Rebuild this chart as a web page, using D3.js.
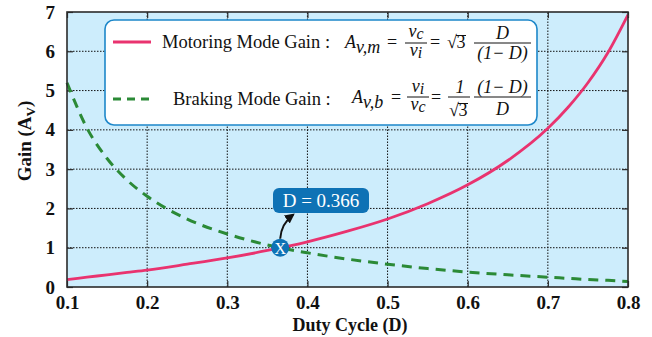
<!DOCTYPE html>
<html>
<head>
<meta charset="utf-8">
<script src="https://cdn.jsdelivr.net/npm/d3@7"></script>
<style>
  html, body { margin: 0; padding: 0; background: #fff; }
  svg { display: block; }
  text { font-family: "Liberation Serif", "Times New Roman", serif; }
</style>
</head>
<body>
<svg id="chart" width="652" height="337"></svg>
<script>
// Duty cycle samples and gains for each operating mode
const dutyCycle    = [0.10, 0.125, 0.15, 0.175, 0.20, 0.25, 0.30, 0.35, 0.40, 0.45, 0.50, 0.55, 0.60, 0.65, 0.70, 0.725, 0.75, 0.775, 0.80];
const motoringGain = [0.19, 0.25, 0.31, 0.37, 0.43, 0.58, 0.74, 0.93, 1.15, 1.42, 1.73, 2.12, 2.60, 3.22, 4.04, 4.57, 5.20, 5.97, 6.93];
const brakingGain  = [5.20, 4.04, 3.27, 2.72, 2.31, 1.73, 1.35, 1.07, 0.87, 0.71, 0.58, 0.47, 0.38, 0.31, 0.25, 0.22, 0.19, 0.17, 0.14];

const xTicks = [0.1, 0.2, 0.3, 0.4, 0.5, 0.6, 0.7, 0.8];
const yTicks = [0, 1, 2, 3, 4, 5, 6, 7];

// Crossover point where both gains equal 1
const crossD = 0.366;
const crossGain = 1;

const svg = d3.select("#chart");
const margin = { left: 67, right: 24, top: 12, bottom: 50 };
const W = 652, H = 337;
const x = d3.scaleLinear().domain([0.1, 0.8]).range([margin.left, W - margin.right]);
const y = d3.scaleLinear().domain([0, 7]).range([H - margin.bottom, margin.top]);

const colors = { bg: "#cdedfc", motoring: "#e9336f", braking: "#2b8a36", frame: "#2b2b2b", box: "#1d87c9", tag: "#0e72b5" };

// plot background
svg.append("rect")
  .attr("x", x(0.1)).attr("y", y(7))
  .attr("width", x(0.8) - x(0.1)).attr("height", y(0) - y(7))
  .attr("fill", colors.bg);

// dotted grid
const grid = svg.append("g").attr("stroke", "#111").attr("stroke-width", 1).attr("stroke-dasharray", "1.5,1.5");
grid.selectAll("line.gx").data(xTicks.slice(1, -1)).join("line")
  .attr("x1", d => x(d)).attr("x2", d => x(d)).attr("y1", y(0)).attr("y2", y(7));
grid.selectAll("line.gy").data(yTicks.slice(1, -1)).join("line")
  .attr("y1", d => y(d)).attr("y2", d => y(d)).attr("x1", x(0.1)).attr("x2", x(0.8));

// axes with inward ticks on all four sides
const tickFmt = d3.format(".1f");
const axB = svg.append("g").attr("transform", `translate(0,${y(0)})`)
  .call(d3.axisBottom(x).tickValues(xTicks).tickFormat(tickFmt).tickSizeInner(-6).tickSizeOuter(0).tickPadding(9));
const axT = svg.append("g").attr("transform", `translate(0,${y(7)})`)
  .call(d3.axisTop(x).tickValues(xTicks).tickFormat("").tickSizeInner(-6).tickSizeOuter(0));
const axL = svg.append("g").attr("transform", `translate(${x(0.1)},0)`)
  .call(d3.axisLeft(y).tickValues(yTicks).tickFormat(d3.format("d")).tickSizeInner(-6).tickSizeOuter(0).tickPadding(12));
const axR = svg.append("g").attr("transform", `translate(${x(0.8)},0)`)
  .call(d3.axisRight(y).tickValues(yTicks).tickFormat("").tickSizeInner(-6).tickSizeOuter(0));
[axB, axT, axL, axR].forEach(g => {
  g.select(".domain").remove();
  g.selectAll(".tick line").attr("stroke", colors.frame).attr("stroke-width", 1.2);
  g.selectAll(".tick text").attr("font-family", "Liberation Serif, serif")
    .attr("font-size", 19).attr("font-weight", "bold").attr("fill", "#111");
});
axB.selectAll(".tick text").attr("dy", "0.71em");

// curves
const line = d3.line().x(d => x(d[0])).y(d => y(d[1])).curve(d3.curveMonotoneX);
svg.append("path")
  .datum(dutyCycle.map((d, i) => [d, brakingGain[i]]))
  .attr("d", line).attr("fill", "none")
  .attr("stroke", colors.braking).attr("stroke-width", 3).attr("stroke-dasharray", "10,7");
svg.append("path")
  .datum(dutyCycle.map((d, i) => [d, motoringGain[i]]))
  .attr("d", line).attr("fill", "none")
  .attr("stroke", colors.motoring).attr("stroke-width", 2.8);

// frame
svg.append("rect")
  .attr("x", x(0.1)).attr("y", y(7))
  .attr("width", x(0.8) - x(0.1)).attr("height", y(0) - y(7))
  .attr("fill", "none").attr("stroke", colors.frame).attr("stroke-width", 1.6);

// axis titles
svg.append("text").attr("x", 350).attr("y", 331).attr("text-anchor", "middle")
  .attr("font-size", 18).attr("font-weight", "bold").attr("fill", "#111").text("Duty Cycle (D)");
const yl = svg.append("text").attr("transform", "translate(31,141) rotate(-90)").attr("text-anchor", "middle")
  .attr("font-size", 19).attr("font-weight", "bold").attr("fill", "#111");
yl.append("tspan").text("Gain (A");
yl.append("tspan").attr("font-size", 13).attr("dy", 4).text("V");
yl.append("tspan").attr("dy", -4).text(")");

// legend box with gain formulas
const lg = svg.append("g");
lg.append("rect").attr("x", 105).attr("y", 20).attr("width", 432).attr("height", 105).attr("rx", 9)
  .attr("fill", "#fff").attr("stroke", colors.box).attr("stroke-width", 1.6);
lg.append("line").attr("x1", 113).attr("x2", 151).attr("y1", 42).attr("y2", 42)
  .attr("stroke", colors.motoring).attr("stroke-width", 2.8);
lg.append("line").attr("x1", 113).attr("x2", 151).attr("y1", 99).attr("y2", 99)
  .attr("stroke", colors.braking).attr("stroke-width", 3).attr("stroke-dasharray", "8,6");

const FS = 18;
function txt(px, py, s, opts = {}) {
  return lg.append("text").attr("x", px).attr("y", py)
    .attr("font-size", opts.size || FS)
    .attr("font-style", opts.italic ? "italic" : "normal")
    .attr("text-anchor", opts.anchor || "start")
    .attr("fill", "#111").text(s);
}
function sub(px, py, base, subs) {
  const t = lg.append("text").attr("x", px).attr("y", py).attr("font-size", FS)
    .attr("font-style", "italic").attr("fill", "#111");
  t.append("tspan").text(base);
  t.append("tspan").attr("dy", 5).attr("dx", 1).text(subs);
  return t;
}
function bar(x1, x2, yy) {
  lg.append("line").attr("x1", x1).attr("x2", x2).attr("y1", yy).attr("y2", yy)
    .attr("stroke", "#111").attr("stroke-width", 1);
}
function fracV(cx, yy, top, bot, numBase, denBase) {
  // v_top over v_bot
  const n = lg.append("text").attr("x", cx).attr("y", numBase).attr("font-size", FS)
    .attr("font-style", "italic").attr("text-anchor", "middle").attr("fill", "#111");
  n.append("tspan").text("v");
  n.append("tspan").attr("dy", 2).attr("font-size", 16).text(top);
  const d = lg.append("text").attr("x", cx).attr("y", denBase).attr("font-size", FS)
    .attr("font-style", "italic").attr("text-anchor", "middle").attr("fill", "#111");
  d.append("tspan").text("v");
  d.append("tspan").attr("dy", 2).attr("font-size", 16).text(bot);
  bar(cx - 11, cx + 11, yy);
}
function sqrt3(px, py) {
  txt(px, py, "√", { size: FS });
  txt(px + 9.5, py, "3", { size: FS });
  lg.append("line").attr("x1", px + 9).attr("x2", px + 19).attr("y1", py - 12.5).attr("y2", py - 12.5)
    .attr("stroke", "#111").attr("stroke-width", 1);
}

// motoring row
txt(162, 48, "Motoring Mode Gain :", { size: 18.5 });
sub(345, 48, "A", "v,m");
txt(387, 48, "=");
fracV(416, 43, "c", "i", 37, 56);
txt(430, 48, "=");
sqrt3(447, 48);
bar(474, 531, 43);
txt(502.5, 39, "D", { italic: true, anchor: "middle" });
txt(502.5, 59, "(1− D)", { italic: true, anchor: "middle" });

// braking row
txt(173, 105, "Braking Mode Gain :", { size: 18.5 });
sub(352, 103, "A", "v,b");
txt(391, 103, "=");
fracV(418, 97, "i", "c", 92, 110);
txt(431, 103, "=");
txt(460, 93, "1", { italic: true, anchor: "middle" });
sqrt3(449, 116);
bar(448, 470, 97);
bar(474, 531, 97);
txt(502.5, 93, "(1− D)", { italic: true, anchor: "middle" });
txt(502.5, 115, "D", { italic: true, anchor: "middle" });

// crossover marker and callout
const cx0 = x(crossD), cy0 = y(crossGain);
svg.append("defs").append("marker").attr("id", "arrow").attr("viewBox", "0 0 10 10")
  .attr("refX", 8).attr("refY", 5).attr("markerWidth", 5).attr("markerHeight", 5).attr("orient", "auto")
  .append("path").attr("d", "M0,0 L10,5 L0,10 Z").attr("fill", "#111");
svg.append("path")
  .attr("d", `M${cx0},${cy0 - 9} Q${cx0 + 1},${cy0 - 24} ${cx0 + 13},${cy0 - 33}`)
  .attr("fill", "none").attr("stroke", "#111").attr("stroke-width", 2).attr("marker-end", "url(#arrow)");
svg.append("circle").attr("cx", cx0).attr("cy", cy0).attr("r", 9).attr("fill", colors.tag);
svg.append("text").attr("x", cx0).attr("y", cy0 + 6).attr("text-anchor", "middle")
  .attr("font-family", "DejaVu Sans, sans-serif").attr("font-size", 16)
  .attr("fill", "#fff").text("X");

svg.append("rect").attr("x", 273).attr("y", 188).attr("width", 96).attr("height", 25).attr("rx", 6)
  .attr("fill", colors.tag);
svg.append("text").attr("x", 321).attr("y", 206.5).attr("text-anchor", "middle")
  .attr("font-size", 19).attr("fill", "#fff").text(`D = ${crossD}`);
</script>
</body>
</html>
